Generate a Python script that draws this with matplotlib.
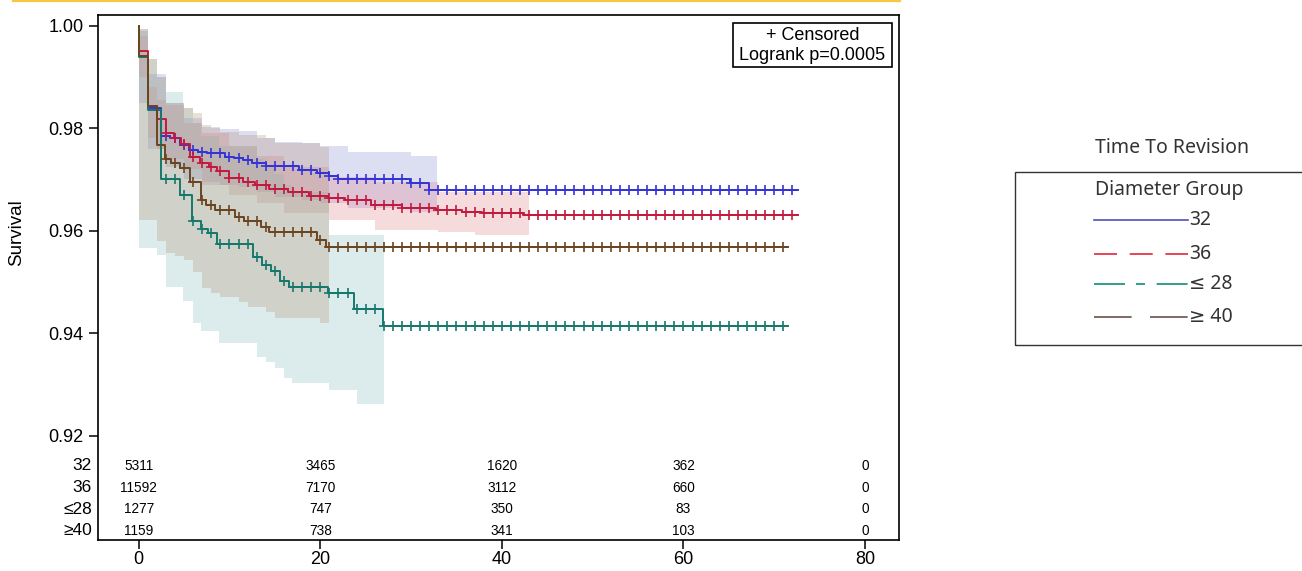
import matplotlib
matplotlib.use("Agg")
import matplotlib.pyplot as plt
import numpy as np
from matplotlib.lines import Line2D
from matplotlib.patches import Rectangle
from matplotlib.transforms import blended_transform_factory

plt.rcParams["font.family"] = ["Liberation Sans", "DejaVu Sans"]
plt.rcParams["lines.scale_dashes"] = False

# ---------------- data ----------------
groups = ["32", "36", "≤28", "≥40"]
legend_labels = ["32", "36", "≤ 28", "≥ 40"]

# Kaplan-Meier step estimates: (time in months, survival from that time on)
t32 = [0, 0, 1.0, 2.5, 3.5, 4.5, 5.5, 6.5, 7.5, 9.5, 10.5, 11.5, 12.5, 14.0, 17.7, 19.6, 21.0, 22.0, 29.9, 32.0]
s32 = [1.0, 0.9940, 0.9839, 0.9785, 0.9780, 0.9768, 0.9757, 0.9753, 0.9751, 0.9744, 0.9741, 0.9738, 0.9733,
       0.9726, 0.9719, 0.9713, 0.9707, 0.9701, 0.9693, 0.9680]
end32 = 72.6

t36 = [0, 0, 1.0, 2.0, 2.97, 3.9, 4.7, 5.7, 6.7, 7.8, 8.6, 10.0, 11.5, 12.8, 14.4, 16.5, 18.8, 20.8, 22.7,
       25.6, 29.0, 32.8, 35.6, 37.8, 42.3]
s36 = [1.0, 0.9951, 0.9843, 0.9817, 0.9791, 0.9780, 0.9769, 0.9744, 0.9733, 0.9725, 0.9717, 0.9702, 0.9695,
       0.9689, 0.9681, 0.9676, 0.9668, 0.9663, 0.9659, 0.9650, 0.9644, 0.9640, 0.9637, 0.9635, 0.9631]
end36 = 72.6

t28 = [0, 0, 1.0, 2.5, 4.5, 5.9, 6.9, 7.6, 8.6, 12.6, 13.6, 14.6, 15.6, 16.6, 20.8, 23.7, 26.9]
s28 = [1.0, 0.9938, 0.9836, 0.9701, 0.9670, 0.9618, 0.9604, 0.9595, 0.9574, 0.9548, 0.9533, 0.9522, 0.9502,
       0.9491, 0.9478, 0.9447, 0.9415]
end28 = 71.5

t40 = [0, 0, 1.0, 2.0, 2.9, 3.6, 4.5, 5.6, 6.9, 7.4, 8.4, 10.6, 11.6, 13.5, 14.4, 19.6, 20.6]
s40 = [1.0, 0.9940, 0.9843, 0.9767, 0.9739, 0.9733, 0.9722, 0.9696, 0.9660, 0.9650, 0.9640, 0.9627, 0.9619,
       0.9608, 0.9598, 0.9582, 0.9569]
end40 = 71.5

# censoring times (months)
c32 = [3, 4, 5, 6, 7, 8, 9, 10, 11, 12, 13, 14, 15, 16, 17, 18, 19, 20, 21, 22, 23, 24, 25, 26, 27, 28, 29, 30,
       31, 32, 33, 34, 35, 36, 37, 38, 39, 40, 41, 42, 43, 44, 45, 46, 47, 48, 49, 50, 51, 52, 53, 54, 55, 56,
       57, 58, 59, 60, 61, 62, 63, 64, 65, 66, 67, 68, 69, 70, 71, 72]
c36 = [3, 4, 5, 6, 7, 8, 9, 10, 11, 12, 13, 14, 15, 16, 17, 18, 19, 20, 21, 22, 23, 24, 25, 26, 27, 28, 29, 30,
       31, 32, 33, 34, 35, 36, 37, 38, 39, 40, 41, 42, 43, 44, 45, 46, 47, 48, 49, 50, 51, 52, 53, 54, 55, 56,
       57, 58, 59, 60, 61, 62, 63, 64, 65, 66, 67, 68, 69, 70, 71, 72]
c28 = [3, 4, 5, 6, 7, 8, 9, 10, 11, 12, 13, 14, 15, 16, 17, 18, 19, 20, 21, 22, 23, 24, 25, 26, 27, 28, 29, 30,
       31, 32, 33, 34, 35, 36, 37, 38, 39, 40, 41, 42, 43, 44, 45, 46, 47, 48, 49, 50, 51, 52, 53, 54, 55, 56,
       57, 58, 59, 60, 61, 62, 63, 64, 65, 66, 67, 68, 69, 70, 71]
c40 = [3, 4, 5, 6, 7, 8, 9, 10, 11, 12, 13, 14, 15, 16, 17, 18, 19, 20, 21, 22, 23, 24, 25, 26, 27, 28, 29, 30,
       31, 32, 33, 34, 35, 36, 37, 38, 39, 40, 41, 42, 43, 44, 45, 46, 47, 48, 49, 50, 51, 52, 53, 54, 55, 56,
       57, 58, 59, 60, 61, 62, 63, 64, 65, 66, 67, 68, 69, 70, 71]

# confidence bands: step times, upper and lower limits, band end
bt32 = [0, 1, 3, 5, 7, 9, 11, 13, 15, 18, 20, 23, 30]
bu32 = [0.9990, 0.9905, 0.9850, 0.9820, 0.9803, 0.9798, 0.9795, 0.9780, 0.9774, 0.9771, 0.9766, 0.9754, 0.9746]
bl32 = [0.9850, 0.9760, 0.9725, 0.9700, 0.9695, 0.9690, 0.9685, 0.9675, 0.9665, 0.9660, 0.9655, 0.9645, 0.9637]
bend32 = 32.9

bt36 = [0, 1, 2, 3, 5, 7, 10, 13, 16, 21, 26, 33, 37]
bu36 = [0.9980, 0.9880, 0.9855, 0.9845, 0.9810, 0.9790, 0.9765, 0.9745, 0.9725, 0.9705, 0.9695, 0.9676, 0.9676]
bl36 = [0.9900, 0.9780, 0.9760, 0.9740, 0.9720, 0.9690, 0.9670, 0.9655, 0.9634, 0.9620, 0.9601, 0.9597, 0.9592]
bend36 = 43.0

bt28 = [0, 1, 2, 3, 4.9, 6, 6.9, 8.9, 13, 14, 15, 16, 16.9, 21, 24]
bu28 = [0.9994, 0.9936, 0.9900, 0.9870, 0.9840, 0.9810, 0.9785, 0.9765, 0.9740, 0.9725, 0.9710, 0.9690, 0.9675,
        0.9592, 0.9592]
bl28 = [0.9566, 0.9566, 0.9553, 0.9491, 0.9463, 0.9420, 0.9405, 0.9380, 0.9353, 0.9344, 0.9333, 0.9312, 0.9302,
        0.9290, 0.9261]
bend28 = 27.0

bt40 = [0, 1, 2, 3, 4, 5, 6, 7, 8, 9, 11, 12, 14, 15, 20]
bu40 = [0.9994, 0.9936, 0.9900, 0.9849, 0.9849, 0.9839, 0.9829, 0.9806, 0.9800, 0.9793, 0.9787, 0.9787, 0.9780,
        0.9772, 0.9764]
bl40 = [0.9621, 0.9621, 0.9580, 0.9556, 0.9551, 0.9543, 0.9520, 0.9488, 0.9479, 0.9471, 0.9460, 0.9452, 0.9442,
        0.9430, 0.9419]
bend40 = 21.0

# numbers at risk
risk_times = [0, 20, 40, 60, 80]
risk32 = [5311, 3465, 1620, 362, 0]
risk36 = [11592, 7170, 3112, 660, 0]
risk28 = [1277, 747, 350, 83, 0]
risk40 = [1159, 738, 341, 103, 0]

x_ticks = [0, 20, 40, 60, 80]
y_ticks = [0.92, 0.94, 0.96, 0.98, 1.00]

# ---------------- styling ----------------
line_colors = ["#3434d6", "#c21a3e", "#16786c", "#6a4520"]
band_colors = ["#7f88cc", "#e07c84", "#7fb8b8", "#b09070"]
legend_colors = ["#5252b4", "#e0283a", "#0f8c78", "#6e5044"]
legend_dashes = [None, (0, (16.6, 9.1)), (0, (22.3, 7.9, 6.5, 8.4)), (0, (27.1, 13.2))]

W, H = 1302, 571
fig = plt.figure(figsize=(W / 100, H / 100), dpi=100)
ax = fig.add_axes([98 / W, 1 - 540 / H, 801 / W, 525 / H])

curves = [(t32, s32, end32, c32), (t36, s36, end36, c36), (t28, s28, end28, c28), (t40, s40, end40, c40)]
bands = [(bt32, bu32, bl32, bend32), (bt36, bu36, bl36, bend36), (bt28, bu28, bl28, bend28),
         (bt40, bu40, bl40, bend40)]

for (bt, bu, bl, bend), col in zip(bands, band_colors):
    x = list(bt) + [bend]
    ax.fill_between(x, list(bl) + [bl[-1]], list(bu) + [bu[-1]], step="post",
                    facecolor=col, alpha=0.27, linewidth=0, zorder=1)

for (t, s, end, cens), col in zip(curves, line_colors):
    x = list(t) + [end]
    y = list(s) + [s[-1]]
    ax.step(x, y, where="post", color=col, linewidth=1.4, zorder=3)
    tarr = np.asarray(t)
    idx = np.searchsorted(tarr, np.asarray(cens), side="right") - 1
    ax.plot(cens, np.asarray(s)[idx], linestyle="none", marker="+", markersize=7.5,
            markeredgewidth=1.2, color=col, zorder=4)

ax.set_xlim(-4.48, 83.74)
ax.set_ylim(0.89965, 1.00209)
ax.set_xticks(x_ticks)
ax.set_xticklabels([str(v) for v in x_ticks])
ax.set_yticks(y_ticks)
ax.set_yticklabels([f"{v:.2f}" for v in y_ticks])
ax.tick_params(direction="out", length=6.5, width=1.1, labelsize=13, pad=4, colors="black")
ax.tick_params(axis="x", pad=1.5)
for sp in ax.spines.values():
    sp.set_linewidth(1.2)

# at-risk table inside the plot area
trans = blended_transform_factory(ax.transData, ax.transAxes)
row_y = [0.1410, 0.0998, 0.0590, 0.0177]
for yy, lab, counts in zip(row_y, groups, [risk32, risk36, risk28, risk40]):
    ax.text(-0.0075, yy, lab, ha="right", va="center", fontsize=12.5, transform=ax.transAxes)
    for tx, n in zip(risk_times, counts):
        ax.text(tx, yy, str(n), ha="center", va="center", fontsize=9.8, transform=trans)

fig.text(17 / W, 1 - 233 / H, "Survival", rotation=90, ha="center", va="center", fontsize=13.5)

# censored / log-rank inset box
fig.patches.append(Rectangle((733 / W, 1 - 66.7 / H), 159 / W, 44 / H, transform=fig.transFigure,
                             facecolor="white", edgecolor="black", linewidth=1.2, zorder=5))
fig.text(812.5 / W, 1 - 35 / H, "+ Censored", ha="center", va="center", fontsize=13, zorder=6)
fig.text(812.5 / W, 1 - 56 / H, "Logrank p=0.0005", ha="center", va="center", fontsize=13, zorder=6)

# top accent rule
fig.add_artist(Line2D([13 / W, 900 / W], [1 - 1 / H, 1 - 1 / H], transform=fig.transFigure,
                      color="#f8c842", linewidth=1.6))

# group legend on the right
lf = ["Noto Sans", "DejaVu Sans"]
fs_leg = 14
fig.text(1172 / W, 1 - 148 / H, "Time To Revision", ha="center", va="center", fontsize=fs_leg,
         family=lf, color="#333333")
fig.patches.append(Rectangle((1015 / W, 1 - 345 / H), 300 / W, 173.3 / H, transform=fig.transFigure,
                             facecolor="none", edgecolor="#333333", linewidth=1.0))
fig.text(1169 / W, 1 - 190 / H, "Diameter Group", ha="center", va="center", fontsize=fs_leg,
         family=lf, color="#333333")
entry_y = [220, 254.3, 284.3, 316.7]
for ey, lab, col, ds in zip(entry_y, legend_labels, legend_colors, legend_dashes):
    ln = Line2D([1094 / W, 1188 / W], [1 - ey / H, 1 - ey / H], transform=fig.transFigure,
                color=col, linewidth=1.2)
    if ds is not None:
        ln.set_linestyle(ds)
    fig.add_artist(ln)
    fig.text(1189 / W, 1 - ey / H, lab, ha="left", va="center", fontsize=fs_leg, family=lf, color="#333333")

fig.savefig("out.png", dpi=100)
